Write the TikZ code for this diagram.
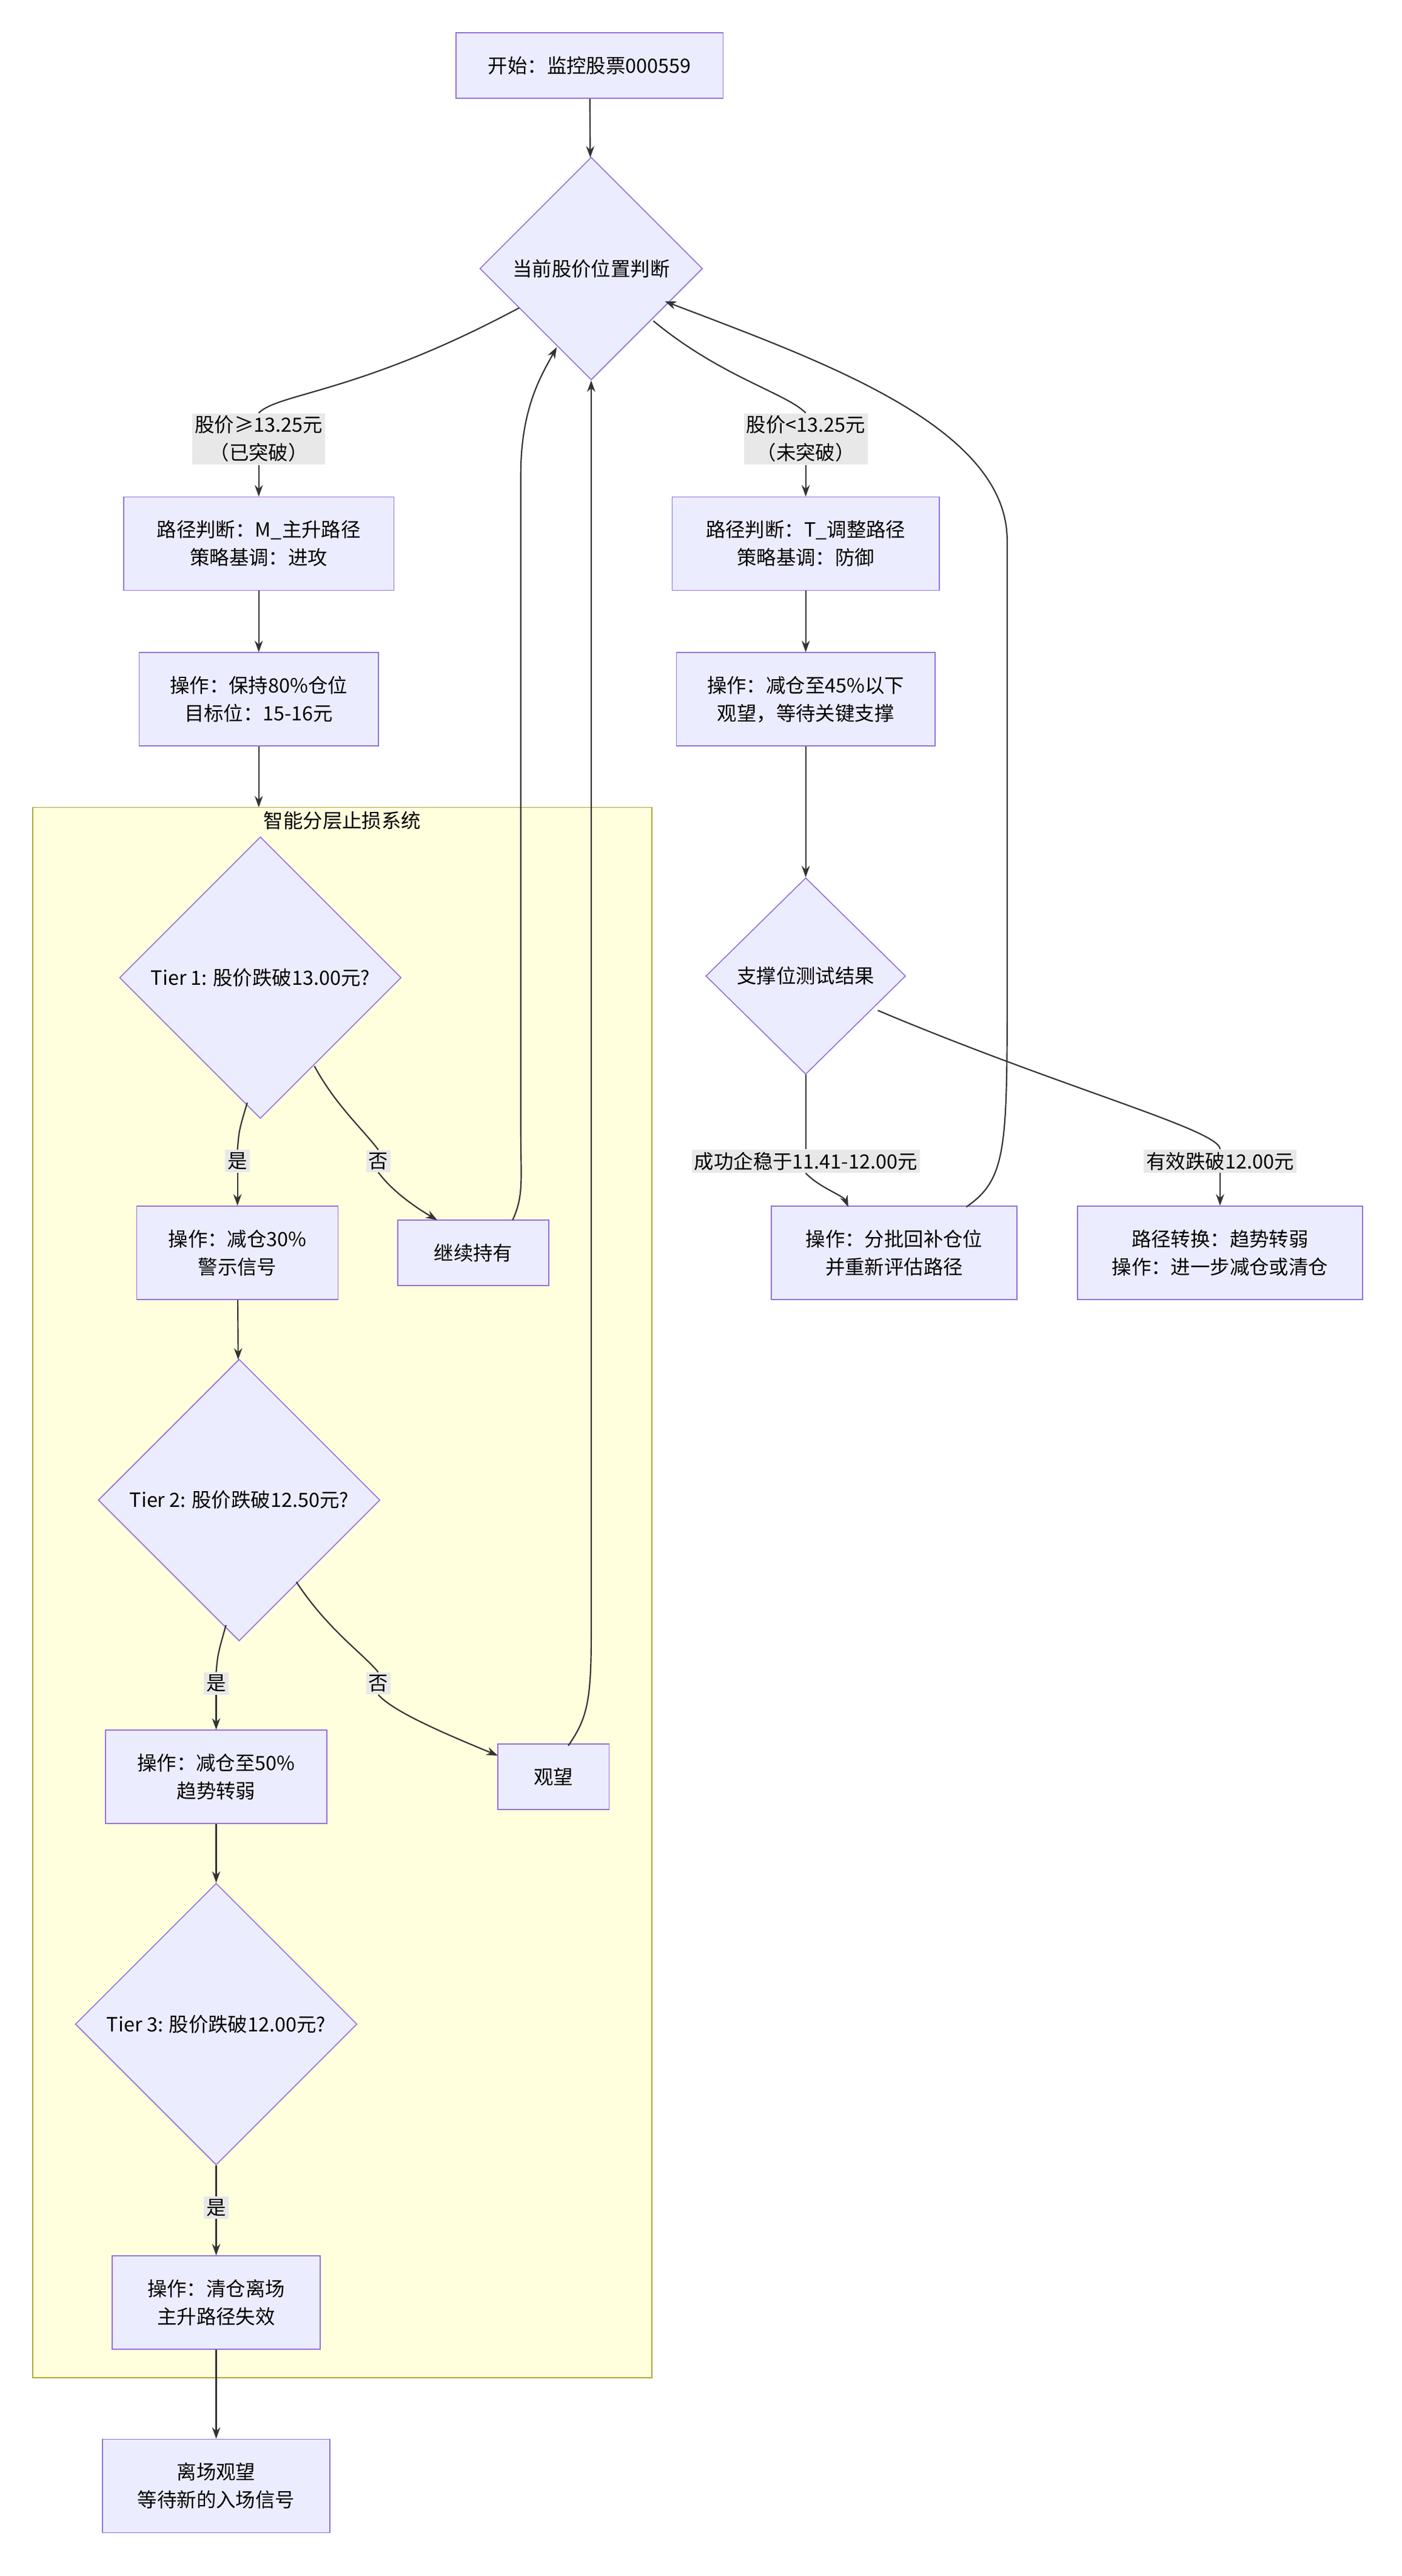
\documentclass[tikz,border=0pt]{standalone}
\usepackage{fontspec}
\setmainfont{Noto Sans CJK SC}
\usetikzlibrary{shapes.geometric,arrows.meta}
\begin{document}
\begin{tikzpicture}[x=1pt,y=-1pt,
  font=\fontsize{12}{17}\selectfont,
  box/.style={draw=purp,fill=boxf,line width=0.6pt,align=center,inner sep=0},
  dia/.style={draw=purp,fill=boxf,line width=0.6pt,diamond,align=center,inner sep=0},
  lab/.style={fill=labf,align=center,inner sep=1.5pt},
  e/.style={draw=edg,line width=0.8pt,-{Stealth[length=7pt,width=5pt]}},
  en/.style={draw=edg,line width=0.8pt}]
\definecolor{purp}{HTML}{9370DB}\definecolor{boxf}{HTML}{ECECFF}
\definecolor{edg}{HTML}{333333}\definecolor{labf}{HTML}{E8E8E8}
\definecolor{clf}{HTML}{FFFFDE}\definecolor{cls}{HTML}{AAAA33}
\useasboundingbox[fill=white] (0,0) rectangle (856,1573);
\draw[fill=clf,draw=cls,line width=0.6pt] (20,493) rectangle (398,1452);
\node (ct) at (209,501) {智能分层止损系统};
\node[box,minimum width=163,minimum height=40] (s) at (360,40) {开始：监控股票000559};
\node[dia,minimum width=136,minimum height=136] (d1) at (361,164) {当前股价位置判断};
\node[lab] (l1) at (158,268) {股价≥13.25元\\（已突破）};
\node[lab] (l2) at (492,268) {股价<13.25元\\（未突破）};
\node[box,minimum width=165,minimum height=57] (m) at (158,332) {路径判断：M\_主升路径\\策略基调：进攻};
\node[box,minimum width=146,minimum height=57] (m2) at (158,427) {操作：保持80\%仓位\\目标位：15-16元};
\node[box,minimum width=163,minimum height=57] (t) at (492,332) {路径判断：T\_调整路径\\策略基调：防御};
\node[box,minimum width=158,minimum height=57] (t2) at (492,427) {操作：减仓至45\%以下\\观望，等待关键支撑};
\node[dia,minimum width=122,minimum height=120] (ds) at (492,596) {支撑位测试结果};
\node[lab] (l3) at (492,709) {成功企稳于11.41-12.00元};
\node[lab] (l4) at (745,709) {有效跌破12.00元};
\node[box,minimum width=150,minimum height=57] (b) at (546,765) {操作：分批回补仓位\\并重新评估路径};
\node[box,minimum width=174,minimum height=57] (c) at (745,765) {路径转换：趋势转弱\\操作：进一步减仓或清仓};
\node[dia,minimum width=172,minimum height=172] (t1) at (159,597) {Tier 1: 股价跌破13.00元?};
\node[lab] (y1) at (145,709) {是};
\node[lab] (n1) at (231,709) {否};
\node[box,minimum width=123,minimum height=57] (a1) at (145,765) {操作：减仓30\%\\警示信号};
\node[box,minimum width=92,minimum height=40] (k) at (289,765) {继续持有};
\node[dia,minimum width=172,minimum height=172] (t2d) at (146,916) {Tier 2: 股价跌破12.50元?};
\node[lab] (y2) at (132,1028) {是};
\node[lab] (n2) at (231,1028) {否};
\node[box,minimum width=135,minimum height=57] (a2) at (132,1085) {操作：减仓至50\%\\趋势转弱};
\node[box,minimum width=68,minimum height=40] (w) at (338,1085) {观望};
\node[dia,minimum width=172,minimum height=172] (t3) at (132,1236) {Tier 3: 股价跌破12.00元?};
\node[lab] (y3) at (132,1348) {是};
\node[box,minimum width=127,minimum height=57] (a3) at (132,1406) {操作：清仓离场\\主升路径失效};
\node[box,minimum width=139,minimum height=57] (f) at (132,1518) {离场观望\\等待新的入场信号};
\draw[e] (s) -- (d1);
\draw[en] (d1.west) ++(-44,24) coordinate (p1);
\draw[en] (317,188) .. controls (220,240) and (170,240) .. (l1.north);
\draw[e] (l1.south) .. controls (158,290) .. (m.north);
\draw[en] (399,196) .. controls (440,230) and (480,240) .. (l2.north);
\draw[e] (l2.south) .. controls (492,290) .. (t.north);
\draw[e] (m) -- (m2);
\draw[e] (m2.south) -- (158,493);
\draw[e] (t) -- (t2);
\draw[e] (t2) -- (ds);
\draw[en] (ds.south) .. controls (492,690) .. (l3.north);
\draw[e] (l3.south) .. controls (500,725) and (515,730) .. (518,737);
\draw[en] (536,617) .. controls (650,665) and (745,690) .. (l4.north);
\draw[e] (l4.south) .. controls (745,725) .. (c.north);
\draw[e] (590,737) .. controls (615,720) and (615,700) .. (615,600) -- (615,330) .. controls (615,260) and (500,220) .. (406,184);
\draw[en] (t1.south) ++(-8,-10) .. controls (146,690) .. (y1.north);
\draw[e] (y1.south) -- (a1.north);
\draw[en] (192,651) .. controls (205,675) and (222,690) .. (n1.north);
\draw[e] (n1.south) .. controls (240,728) and (255,738) .. (267,745);
\draw[e] (313,745) .. controls (320,730) and (318,720) .. (318,690) -- (318,290) .. controls (318,250) and (330,230) .. (340,212);
\draw[e] (a1) -- (t2d);
\draw[en] (t2d.south) ++(-8,-10) .. controls (133,1010) .. (y2.north);
\draw[e] (y2.south) -- (a2.north);
\draw[en] (181,966) .. controls (200,995) and (222,1010) .. (n2.north);
\draw[e] (n2.south) .. controls (240,1045) and (270,1058) .. (304,1072);
\draw[e] (347,1066) .. controls (358,1050) and (361,1040) .. (361,1000) -- (d1.south);
\draw[e] (a2) -- (t3);
\draw[en] (t3.south) -- (y3.north);
\draw[e] (y3.south) -- (a3.north);
\draw[e] (a3) -- (f);
\node[lab] at (158,268) {股价≥13.25元\\（已突破）};
\node[lab] at (492,268) {股价<13.25元\\（未突破）};
\end{tikzpicture}
\end{document}
